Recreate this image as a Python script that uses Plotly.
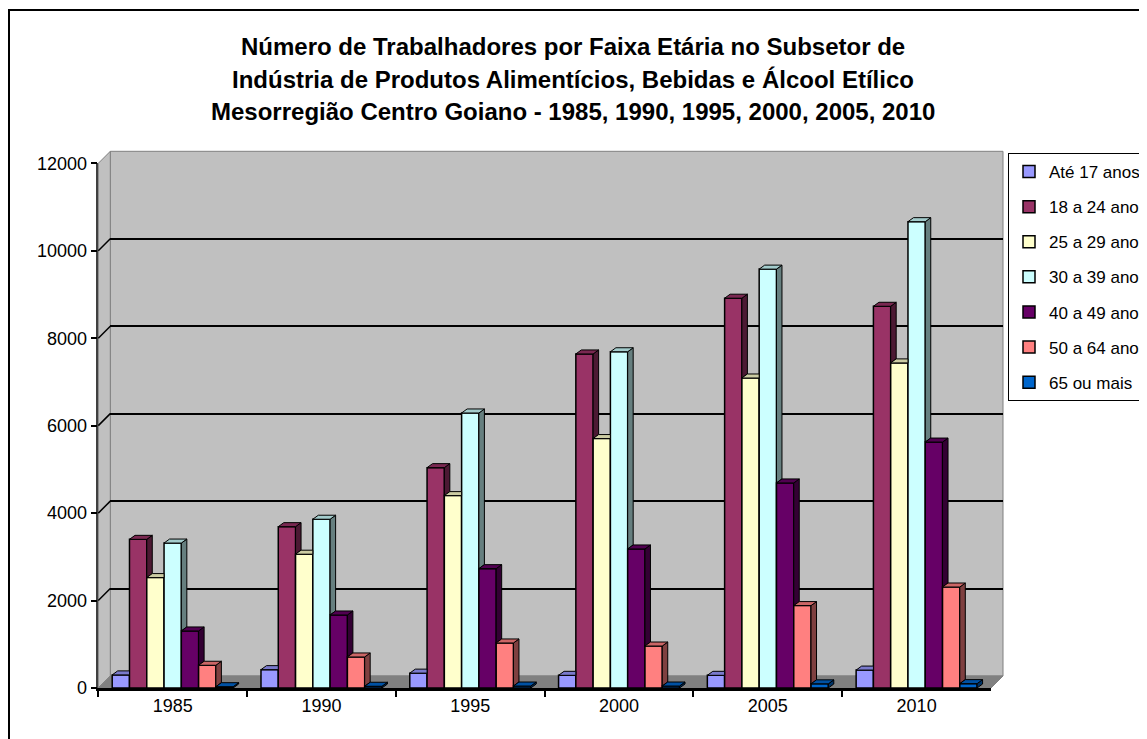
import plotly.graph_objects as go

# ---------------- data ----------------
years = ["1985", "1990", "1995", "2000", "2005", "2010"]
series_names = ["Até 17 anos", "18 a 24 anos", "25 a 29 anos", "30 a 39 anos",
                "40 a 49 anos", "50 a 64 anos", "65 ou mais"]
ate_17 = [300, 420, 340, 290, 290, 410]
de_18_24 = [3400, 3690, 5040, 7640, 8915, 8730]
de_25_29 = [2525, 3060, 4400, 5705, 7090, 7435]
de_30_39 = [3315, 3860, 6290, 7690, 9580, 10665]
de_40_49 = [1305, 1670, 2730, 3180, 4690, 5625]
de_50_64 = [520, 710, 1030, 960, 1885, 2310]
mais_65 = [30, 40, 45, 45, 95, 100]
series_values = [ate_17, de_18_24, de_25_29, de_30_39, de_40_49, de_50_64, mais_65]
y_ticks = [0, 2000, 4000, 6000, 8000, 10000, 12000]

colors = ["#9999FF", "#993366", "#FFFFCC", "#CCFFFF", "#660066", "#FF8080", "#0066CC"]

# ---------------- geometry helpers (layout only) ----------------
W, H = 1147, 739
OFF = 8  # page body margin of the browser
def px(x):
    return (x - OFF) / W
def py(y):
    return 1 - (y - OFF) / H

X0, X1 = 98.3, 991.0      # front plane of bars (pixels)
Y0, Y1 = 688.0, 163.3     # value 0 and 12000 on front plane
YMAX = 12000
BACK = 12                 # back-wall offset in px
bargap = 0.187
ncat, nser = len(years), len(series_names)
bw = (1 - bargap) / nser
ux = (X1 - X0) / ncat
uy = (Y0 - Y1) / YMAX
dx = 5.5 / ux
dy = 4.0 / uy

def shade(hexc, f):
    h = hexc.lstrip("#")
    r, g, b = (int(h[i:i + 2], 16) for i in (0, 2, 4))
    return "rgb(%d,%d,%d)" % (r * f, g * f, b * f)

fig = go.Figure()

# dummy trace for the back-wall grid subplot
fig.add_trace(go.Scatter(x=[], y=[], xaxis="x", yaxis="y", showlegend=False,
                         hoverinfo="skip"))

for name, vals, col in zip(series_names, series_values, colors):
    fig.add_trace(go.Bar(
        x=years, y=vals, name=name, xaxis="x2", yaxis="y2",
        legendgroup=name,
        marker=dict(color=col, line=dict(color="black", width=1.5)),
    ))

# pseudo-3D faces derived from the same values
for i, (name, vals, col) in enumerate(zip(series_names, series_values, colors)):
    sx, sy, tx, ty = [], [], [], []
    for k, v in enumerate(vals):
        L = k - (1 - bargap) / 2 + i * bw
        R = L + bw
        nxt = series_values[i + 1][k] if i + 1 < nser else None
        # top face
        if nxt is not None and nxt > v:
            tx += [L, R, R, L + dx, L, None]
            ty += [v, v, v + dy, v + dy, v, None]
        else:
            tx += [L, R, R + dx, L + dx, L, None]
            ty += [v, v, v + dy, v + dy, v, None]
        # side face (visible part only)
        lo = 0 if nxt is None else nxt
        if lo < v:
            sx += [R, R, R + dx, R + dx, R, None]
            sy += [lo, v, v + dy, lo + dy, lo, None]
    fig.add_trace(go.Scatter(x=sx, y=sy, xaxis="x3", yaxis="y2", mode="lines",
                             fill="toself", fillcolor=shade(col, 0.5),
                             line=dict(color="black", width=1),
                             showlegend=False, hoverinfo="skip"))
    fig.add_trace(go.Scatter(x=tx, y=ty, xaxis="x3", yaxis="y2", mode="lines",
                             fill="toself", fillcolor=shade(col, 0.8),
                             line=dict(color="black", width=1),
                             showlegend=False, hoverinfo="skip"))

FONT = "Liberation Sans, Arial, sans-serif"

shapes = [
    # outer chart border
    dict(type="rect", xref="paper", yref="paper", x0=px(9), x1=px(1160),
         y0=py(750), y1=py(10), line=dict(color="black", width=2),
         fillcolor="rgba(0,0,0,0)", layer="below"),
    # back wall
    dict(type="rect", xref="paper", yref="paper", x0=px(X0 + BACK), x1=px(X1 + BACK),
         y0=py(Y0 - BACK), y1=py(Y1 - BACK), fillcolor="#C0C0C0",
         line=dict(color="#808080", width=1), layer="below"),
    # left wall
    dict(type="path", xref="paper", yref="paper",
         path="M %f,%f L %f,%f L %f,%f L %f,%f Z" % (
             px(X0), py(Y0), px(X0 + BACK), py(Y0 - BACK),
             px(X0 + BACK), py(Y1 - BACK), px(X0), py(Y1)),
         fillcolor="#C0C0C0", line=dict(color="#808080", width=1), layer="below"),
    # floor
    dict(type="path", xref="paper", yref="paper",
         path="M %f,%f L %f,%f L %f,%f L %f,%f Z" % (
             px(X0), py(Y0), px(X0 + BACK), py(Y0 - BACK),
             px(X1 + BACK), py(Y0 - BACK), px(X1), py(Y0)),
         fillcolor="#808080", line=dict(color="#808080", width=1), layer="below"),
]
for t in y_ticks[1:-1]:
    yf = Y0 - t * uy
    shapes.append(dict(type="line", xref="paper", yref="paper",
                       x0=px(X0), y0=py(yf), x1=px(X0 + BACK), y1=py(yf - BACK),
                       line=dict(color="black", width=1.5), layer="below"))

title_lines = [
    "Número de Trabalhadores por Faixa Etária no Subsetor de",
    "Indústria de Produtos Alimentícios, Bebidas e Álcool Etílico",
    "Mesorregião Centro Goiano - 1985, 1990, 1995, 2000, 2005, 2010",
]
annotations = []
for j, line in enumerate(title_lines):
    annotations.append(dict(text="<b>%s</b>" % line, xref="paper", yref="paper",
                            x=px(573), y=py(47 + 32 * j), showarrow=False,
                            xanchor="center", yanchor="middle",
                            font=dict(family=FONT, size=24, color="black")))

fig.update_layout(
    width=W, height=H,
    margin=dict(l=0, r=0, t=0, b=0, autoexpand=False),
    paper_bgcolor="white", plot_bgcolor="rgba(0,0,0,0)",
    font=dict(family=FONT, size=18, color="black"),
    barmode="group", bargap=bargap, bargroupgap=0,
    showlegend=True,
    legend=dict(x=px(1008), y=py(153), xanchor="left", yanchor="top",
                bgcolor="white", bordercolor="black", borderwidth=1,
                font=dict(family=FONT, size=17, color="black"),
                itemwidth=30,
                traceorder="grouped", tracegroupgap=10),
    xaxis=dict(domain=[px(X0 + BACK), px(X1 + BACK)], anchor="y", visible=False,
               range=[0, 1]),
    yaxis=dict(domain=[py(Y0 - BACK), py(Y1 - BACK)], anchor="x", range=[0, YMAX],
               tickvals=y_ticks[1:-1], showticklabels=False, ticks="",
               showgrid=True, gridcolor="black", gridwidth=2, zeroline=False,
               showline=False),
    xaxis2=dict(domain=[px(X0), px(X1)], anchor="y2", type="category",
                categoryorder="array", categoryarray=years,
                tickson="boundaries", ticks="outside", ticklen=6, tickwidth=1.5,
                tickcolor="black", showline=True, linecolor="black", linewidth=2.5,
                showgrid=False, zeroline=False,
                tickfont=dict(family=FONT, size=18, color="black")),
    yaxis2=dict(domain=[py(Y0), py(Y1)], anchor="x2", range=[0, YMAX],
                tickvals=y_ticks, tickformat="d", ticks="outside", ticklen=6,
                tickwidth=1.5, tickcolor="black", showline=True,
                linecolor="#404040", linewidth=1.5,
                showgrid=False, zeroline=False,
                tickfont=dict(family=FONT, size=18, color="black")),
    xaxis3=dict(overlaying="x2", anchor="y2", range=[-0.5, ncat - 0.5],
                visible=False),
    shapes=shapes,
    annotations=annotations,
)

fig.write_html("out.html")
